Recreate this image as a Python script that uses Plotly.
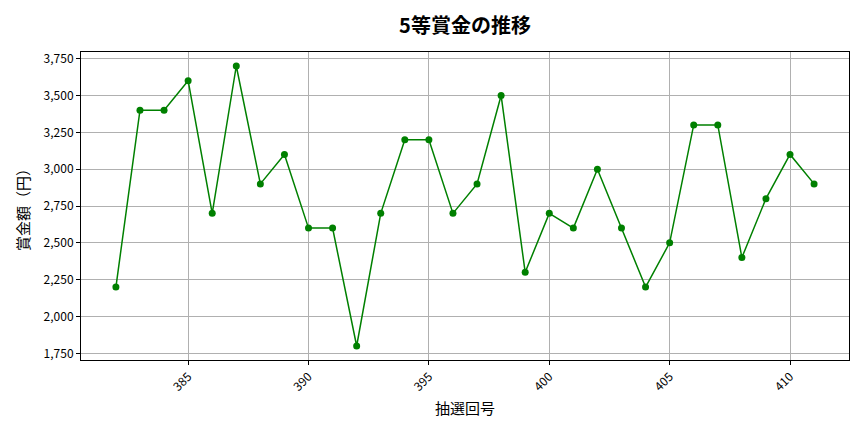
import plotly.graph_objects as go

draws = list(range(382, 412))
prizes = [2200, 3400, 3400, 3600, 2700, 3700, 2900, 3100, 2600, 2600,
          1800, 2700, 3200, 3200, 2700, 2900, 3500, 2300, 2700, 2600,
          3000, 2600, 2200, 2500, 3300, 3300, 2400, 2800, 3100, 2900]
x_ticks = [385, 390, 395, 400, 405, 410]
y_ticks = [1750, 2000, 2250, 2500, 2750, 3000, 3250, 3500, 3750]

FONT = "Noto Sans CJK JP"

fig = go.Figure(go.Scatter(
    x=draws, y=prizes, mode="lines+markers",
    line=dict(color="green", width=1.5),
    marker=dict(color="green", size=7),
))

axis_common = dict(
    showline=True, linecolor="black", linewidth=1, mirror=True,
    showgrid=True, gridcolor="#b0b0b0", gridwidth=1,
    ticks="outside", ticklen=4, tickcolor="black",
    tickfont=dict(family=FONT, size=12, color="black"),
    zeroline=False, automargin=False,
)

fig.update_layout(
    width=864, height=432,
    margin=dict(l=81, r=15, t=52, b=72),
    plot_bgcolor="white", paper_bgcolor="white",
    showlegend=False,
    # centred over the plot area, as the original is
    title=dict(text="<b>5等賞金の推移</b>", xref="paper", x=0.5, xanchor="center",
               y=0.94, yanchor="middle",
               font=dict(family=FONT, size=20, color="black")),
    xaxis=dict(axis_common, range=[380.55, 412.45], tickvals=x_ticks,
               tickangle=-45,
               title=dict(text="抽選回号", font=dict(family=FONT, size=15, color="black"),
                          standoff=10)),
    yaxis=dict(axis_common, range=[1705, 3795], tickvals=y_ticks,
               tickformat=",d",
               title=dict(text="賞金額（円）", font=dict(family=FONT, size=15, color="black"),
                          standoff=10)),
)

# drop the page's default 8px body margin so the figure sits at the window origin
fig.write_html("out.html", config={"displayModeBar": False},
               post_script="document.body.style.margin='0';")
